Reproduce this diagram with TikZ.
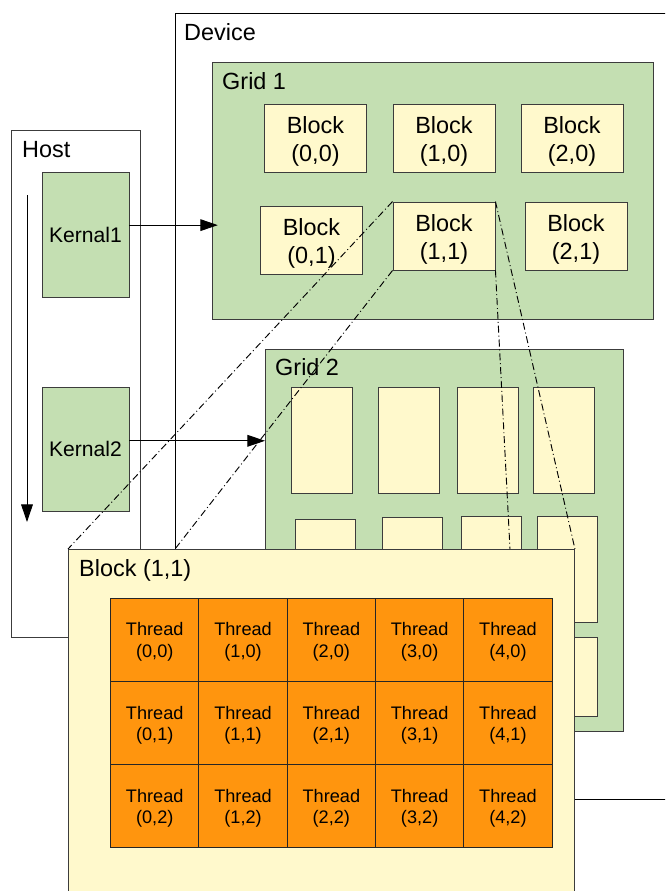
\documentclass[tikz,border=0pt]{standalone}
\usepackage{fontspec}
\setmainfont{Liberation Sans}
\usepackage{xcolor}
\usetikzlibrary{positioning,arrows.meta}
\definecolor{GridGreen}   {HTML}{C4DFB2}
\definecolor{BlockCream}  {HTML}{FFF9CC}
\definecolor{ThreadOrange}{HTML}{FF950E}
\definecolor{EdgeGrey}    {HTML}{3C3C3C}
\newlength{\pxu}\setlength{\pxu}{0.03cm}

\begin{document}
\begin{tikzpicture}[x=0.03cm,y=-0.03cm,
          frame/.style={draw=black,line width=0.8pt,fill=white,
                        anchor=north west,inner sep=0pt},
          grid/.style={frame,draw=EdgeGrey,fill=GridGreen},
          sz/.style 2 args={minimum width=#1*\pxu,minimum height=#2*\pxu},
          blk/.style={draw=EdgeGrey,line width=0.8pt,fill=BlockCream,
                      inner sep=0pt,align=center,
                      font=\fontsize{20}{24}\selectfont},
          blktxt/.style={text height=40.5pt,text depth=0pt},
          kern/.style={draw=EdgeGrey,line width=0.8pt,fill=GridGreen,
                       inner sep=0pt,font=\fontsize{18}{22}\selectfont},
          thr/.style={draw=black!85,line width=0.8pt,fill=ThreadOrange,
                      inner sep=0pt,align=center,sz={88.3}{83.3},
                      font=\fontsize{15.5}{18}\selectfont,
                      text height=29.7pt,text depth=0pt},
          lbl/.style={anchor=base west,inner sep=0pt,
                      font=\fontsize{20}{24}\selectfont},
          arr/.style={line width=0.8pt,-{Triangle[length=15pt,width=10pt]}},
          proj/.style={line width=0.8pt,
                       dash pattern=on 6pt off 2.5pt on 0.8pt off 2.5pt}]
        \clip (0,0) rectangle (665,891);
        % device and host
        \node[frame,sz={520}{786}] (device) at (175,13) {};
        \node[lbl] (devicelbl) at (184,40) {Device};
        \node[frame,draw=EdgeGrey,sz={129}{507}] (host) at (11,130) {};
        \node[lbl] (hostlbl) at (22,157) {Host};
        \node[kern,sz={87}{125}] (kernal1) at (85.5,234.5) {Kernal1};
        \node[kern,sz={87}{124}] (kernal2) at (85.5,449) {Kernal2};
        \coordinate (flowtop) at (27,195);
        \coordinate (flowend) at (27,522);
        \draw[arr] (flowtop) -- (flowend);
        % grid 1
        \node[grid,sz={441}{257}] (grid1) at (212,62) {};
        \node[lbl] (grid1lbl) at (222,89) {Grid 1};
        \node[blk,blktxt,sz={102}{68}] (g1b00) at (315.5,138) {Block\\(0,0)};
        \node[blk,blktxt,sz={102}{68}] (g1b10) at (444,138)   {Block\\(1,0)};
        \node[blk,blktxt,sz={102}{68}] (g1b20) at (572,138)   {Block\\(2,0)};
        \node[blk,blktxt,sz={102}{68}] (g1b01) at (311.5,240) {Block\\(0,1)};
        \node[blk,blktxt,sz={102}{68}] (g1b11) at (444,236)   {Block\\(1,1)};
        \node[blk,blktxt,sz={102}{68}] (g1b21) at (576,236)   {Block\\(2,1)};
        % grid 2
        \node[grid,sz={358}{382}] (grid2) at (265,349) {};
        \node[lbl] (grid2lbl) at (275,375) {Grid 2};
        \node[blk,anchor=north west,sz={61}{106}] (g2b00) at (291,387) {};
        \node[blk,anchor=north west,sz={61}{106}] (g2b10) at (378,387) {};
        \node[blk,anchor=north west,sz={61}{106}] (g2b20) at (457,387) {};
        \node[blk,anchor=north west,sz={61}{106}] (g2b30) at (533,387) {};
        \node[blk,anchor=north west,sz={60}{106}] (g2b01) at (295,519) {};
        \node[blk,anchor=north west,sz={60}{106}] (g2b11) at (382,517) {};
        \node[blk,anchor=north west,sz={60}{106}] (g2b21) at (461,516) {};
        \node[blk,anchor=north west,sz={60}{106}] (g2b31) at (537,516) {};
        \node[blk,anchor=north west,sz={60}{79}]  (g2b32) at (537,637) {};
        % kernel launches
        \draw[arr,shorten >=-5pt] ([yshift=8pt]kernal1.east)
            -- ([yshift=8pt]kernal1.east -| grid1.west);
        \draw[arr] ([yshift=7pt]kernal2.east)
            -- ([yshift=7pt]kernal2.east -| grid2.west);
        % block (1,1) zoomed
        \node[frame,draw=EdgeGrey,fill=BlockCream,sz={506}{400}] (blk11) at (68,549) {};
        \coordinate (projse) at (510,549);
        \draw[proj] (g1b11.north west) -- (blk11.north west);
        \draw[proj] (g1b11.south west) -- (blk11.north -| device.west);
        \draw[proj] (g1b11.north east) -- (blk11.north east);
        \draw[proj] (g1b11.south east) -- (projse);
        \node[lbl] (blk11lbl) at (79,576) {Block (1,1)};
        \foreach \i in {0,...,4}
          \foreach \j in {0,...,2}
            \node[thr] (t\i\j) at ({110.6+88.3*(\i+0.5)},{598+83.3*(\j+0.5)})
                {Thread\\(\i,\j)};
      \end{tikzpicture}
\end{document}
